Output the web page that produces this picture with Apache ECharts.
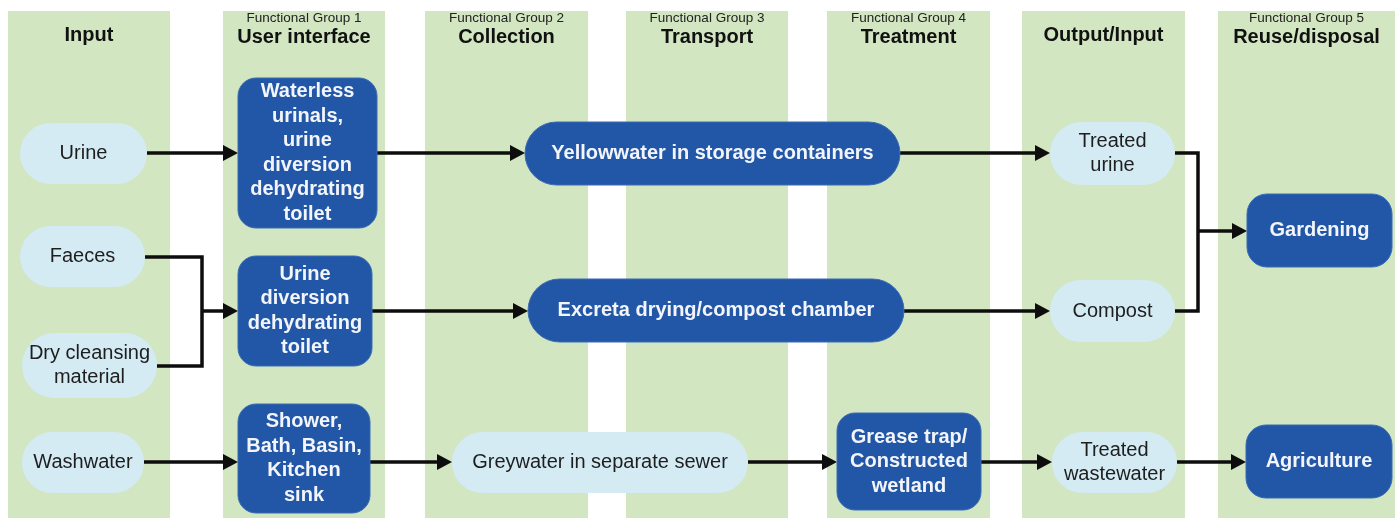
<!DOCTYPE html>
<html><head><meta charset="utf-8">
<script src="https://cdn.jsdelivr.net/npm/echarts@6/dist/echarts.min.js"></script>
<style>html,body{margin:0;padding:0;background:#fff}#c{width:1395px;height:525px}</style>
</head><body><div id="c"></div>
<script>
// ---- content ----
const columnTitles = ['Input', 'User interface', 'Collection', 'Transport', 'Treatment', 'Output/Input', 'Reuse/disposal'];
const columnGroups = ['', 'Functional Group 1', 'Functional Group 2', 'Functional Group 3', 'Functional Group 4', '', 'Functional Group 5'];

const nodeLabels = [
  'Urine', 'Faeces', 'Dry cleansing\nmaterial', 'Washwater',
  'Waterless\nurinals,\nurine\ndiversion\ndehydrating\ntoilet',
  'Urine\ndiversion\ndehydrating\ntoilet',
  'Shower,\nBath, Basin,\nKitchen\nsink',
  'Yellowwater in storage containers',
  'Excreta drying/compost chamber',
  'Greywater in separate sewer',
  'Grease trap/\nConstructed\nwetland',
  'Treated\nurine', 'Compost', 'Treated\nwastewater',
  'Gardening', 'Agriculture'
];
const nodeKinds = ['product', 'product', 'product', 'product',
  'technology', 'technology', 'technology', 'technology', 'technology',
  'product', 'technology', 'product', 'product', 'product', 'technology', 'technology'];

// ---- layout (diagram units = axis units) ----
const columnSpans = [[8, 170], [223, 385], [425, 588], [626, 788], [827, 990], [1022, 1185], [1218, 1395]];
const nodeBoxes = [
  [20, 147, 123, 184], [20, 145, 226, 287], [22, 157, 333, 398], [22, 144, 432, 493],
  [238, 377, 78, 228], [238, 372, 256, 366], [238, 370, 404, 513],
  [525, 900, 122, 185], [528, 904, 279, 342],
  [452, 748, 432, 493], [837, 981, 413, 510],
  [1050, 1175, 122, 185], [1050, 1175, 280, 342], [1052, 1177, 432, 493],
  [1247, 1392, 194, 267], [1246, 1392, 425, 498]
];
const edgePaths = [
  [[147, 153], [238, 153]],
  [[377, 153], [525, 153]],
  [[900, 153], [1050, 153]],
  [[1175, 153], [1198, 153], [1198, 311], [1175, 311]],
  [[1198, 231], [1247, 231]],
  [[145, 257], [202, 257], [202, 366], [157, 366]],
  [[202, 311], [238, 311]],
  [[372, 311], [528, 311]],
  [[904, 311], [1050, 311]],
  [[144, 462], [238, 462]],
  [[370, 462], [452, 462]],
  [[748, 462], [837, 462]],
  [[981, 462], [1052, 462]],
  [[1177, 462], [1246, 462]]
];
const edgeArrow = [1, 1, 1, 0, 1, 0, 1, 1, 1, 1, 1, 1, 1, 1];

const GREEN = '#d2e6c2', LIGHT = '#d4ebf4', DARK = '#2257a7';
const FONT = '"Liberation Sans", Arial, sans-serif';
const bandTop = 11, bandBottom = 518, groupY = 18, titleY = 37;

const chart = echarts.init(document.getElementById('c'), null, {renderer: 'canvas'});

chart.setOption({
  animation: false,
  backgroundColor: '#ffffff',
  grid: {left: 0, right: 0, top: 0, bottom: 0},
  xAxis: {type: 'value', min: 0, max: 1395, show: false},
  yAxis: {type: 'value', min: 0, max: 525, inverse: true, show: false},
  series: [
    {
      type: 'custom', name: 'columns', silent: true,
      data: columnSpans.map(s => [s[0], s[1]]),
      encode: {x: [0, 1]},
      renderItem(params, api) {
        const i = params.dataIndex;
        const p0 = api.coord([api.value(0), bandTop]);
        const p1 = api.coord([api.value(1), bandBottom]);
        const cx = (p0[0] + p1[0]) / 2;
        const children = [{
          type: 'rect',
          shape: {x: p0[0], y: p0[1], width: p1[0] - p0[0], height: p1[1] - p0[1]},
          style: {fill: GREEN}
        }];
        if (columnGroups[i]) {
          children.push({
            type: 'text',
            style: {text: columnGroups[i], x: cx, y: api.coord([0, groupY])[1], align: 'center', verticalAlign: 'middle',
              fill: '#222', fontSize: 13.5, fontFamily: FONT}
          });
        }
        children.push({
          type: 'text',
          style: {text: columnTitles[i], x: cx, y: api.coord([0, columnGroups[i] ? titleY : titleY - 2])[1], align: 'center', verticalAlign: 'middle',
            fill: '#111', fontSize: 20, fontWeight: 'bold', fontFamily: FONT}
        });
        return {type: 'group', children};
      }
    },
    {
      type: 'custom', name: 'flows', silent: true,
      data: edgePaths.map((p, i) => [p[0][0], p[0][1], i]),
      encode: {x: 0, y: 1},
      z: 3,
      renderItem(params, api) {
        const i = params.dataIndex;
        const pts = edgePaths[i].map(p => api.coord(p));
        const children = [];
        if (edgeArrow[i]) {
          const a = pts[pts.length - 2], b = pts[pts.length - 1];
          const dx = b[0] - a[0], dy = b[1] - a[1];
          const L = Math.hypot(dx, dy), ux = dx / L, uy = dy / L;
          const hl = 15, hw = 8;
          const base = [b[0] - ux * hl, b[1] - uy * hl];
          const linePts = pts.slice(0, -1).concat([[base[0] + ux * 1, base[1] + uy * 1]]);
          children.push({type: 'polyline', shape: {points: linePts},
            style: {stroke: '#0d0d0d', lineWidth: 3.5, fill: null, lineJoin: 'miter'}});
          children.push({type: 'polygon', shape: {points: [b, [base[0] - uy * hw, base[1] + ux * hw], [base[0] + uy * hw, base[1] - ux * hw]]},
            style: {fill: '#0d0d0d'}});
        } else {
          children.push({type: 'polyline', shape: {points: pts},
            style: {stroke: '#0d0d0d', lineWidth: 3.5, fill: null, lineJoin: 'miter'}});
        }
        return {type: 'group', children};
      }
    },
    {
      type: 'custom', name: 'nodes', silent: true,
      data: nodeBoxes.map(b => [b[0], b[2], b[1], b[3]]),
      encode: {x: [0, 2], y: [1, 3]},
      z: 4,
      renderItem(params, api) {
        const i = params.dataIndex;
        const p0 = api.coord([api.value(0), api.value(1)]);
        const p1 = api.coord([api.value(2), api.value(3)]);
        const w = p1[0] - p0[0], h = p1[1] - p0[1];
        const dark = nodeKinds[i] === 'technology';
        const lines = nodeLabels[i].split('\n').length;
        const r = (!dark || lines === 1 && w > 200) ? h / 2 : (lines === 1 ? 20 : 18);
        return {
          type: 'rect',
          shape: {x: p0[0], y: p0[1], width: w, height: h, r: r},
          style: {fill: dark ? DARK : LIGHT, stroke: dark ? '#3a6bb5' : null, lineWidth: dark ? 1 : 0},
          textContent: {
            style: {text: nodeLabels[i], fill: dark ? '#f3f5fa' : '#1e1e1e', fontSize: 20,
              fontWeight: dark ? 'bold' : 'normal', fontFamily: FONT, lineHeight: 24.5, align: 'center'}
          },
          textConfig: {position: 'inside'}
        };
      }
    }
  ]
});
</script></body></html>
